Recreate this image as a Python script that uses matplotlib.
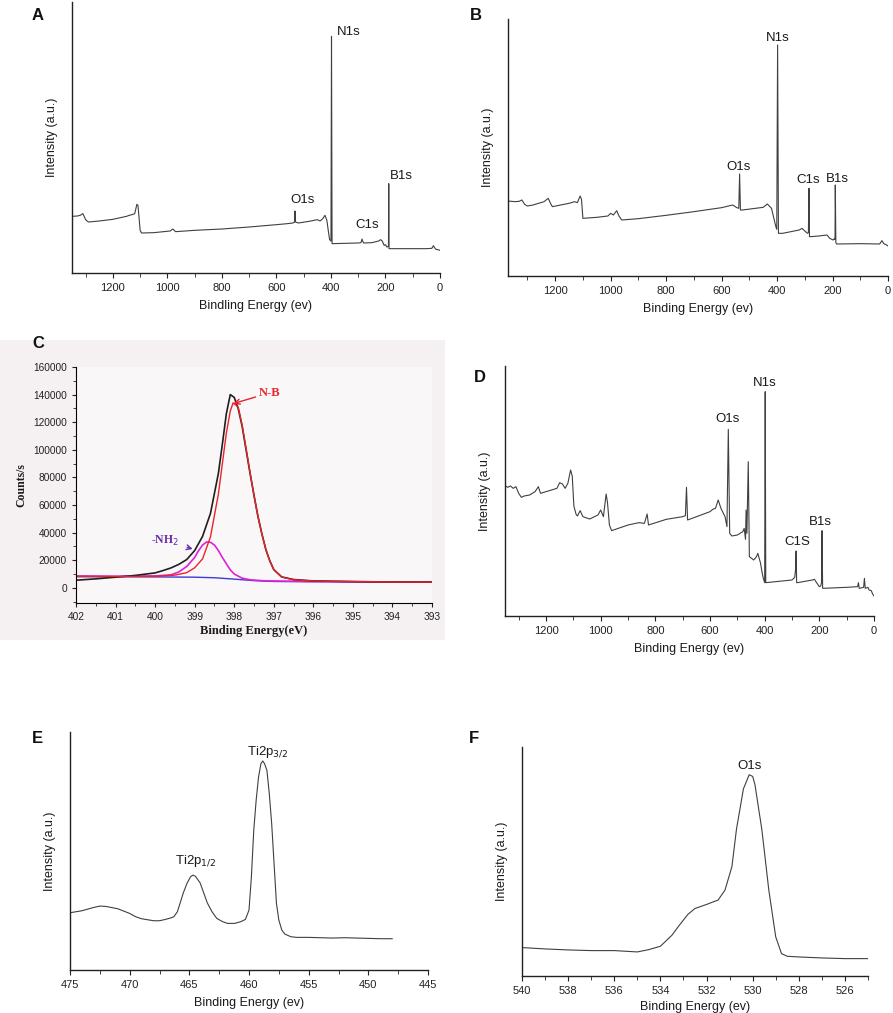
import numpy as np
import matplotlib
matplotlib.use('Agg')
import matplotlib.pyplot as plt
from matplotlib.ticker import MultipleLocator

plt.rcParams['font.family'] = ['Liberation Sans', 'DejaVu Sans']

# ---- panel A : survey spectrum ----
a_be = [1350, 1330, 1320, 1310, 1300, 1290, 1250, 1200, 1150, 1140, 1130, 1120, 1112, 1108,
        1100, 1095, 1050, 990, 980, 970, 900, 800, 700, 600, 560, 540, 534, 532, 530, 520,
        480, 450, 440, 430, 422, 415, 410, 405, 400, 398, 396, 350, 300, 290, 286, 284,
        280, 250, 225, 218, 212, 205, 200, 195, 189, 188, 187, 150, 100, 50, 30, 24, 20,
        15, 8, 0]
a_int = [170, 171, 173, 178, 160, 153, 156, 161, 170, 173, 175, 178, 206, 203,
         128, 120, 121, 126, 132, 124, 128, 132, 138, 145, 148, 150, 152, 186, 153, 150,
         155, 160, 156, 163, 173, 158, 128, 100, 96, 710, 88, 89, 90, 91, 102, 96,
         90, 91, 96, 100, 96, 83, 85, 78, 80, 268, 73, 73, 73, 73, 74, 82, 76,
         71, 70, 68]
a_labels = [('N1s', 378, 723, 'left'), ('O1s', 506, 218, 'center'),
            ('C1s', 268, 143, 'center'), ('B1s', 140, 290, 'center')]

# ---- panel B : survey spectrum ----
b_be = [1370, 1345, 1330, 1320, 1310, 1300, 1280, 1240, 1225, 1215, 1210, 1150, 1130, 1120,
        1110, 1105, 1100, 1050, 1010, 1000, 990, 978, 970, 960, 900, 800, 700, 600, 560,
        545, 538, 535, 532, 525, 450, 435, 428, 420, 412, 405, 401, 398, 395, 380, 320,
        310, 300, 290, 287, 285, 283, 280, 250, 220, 210, 198, 192, 191, 190, 188, 185,
        100, 30, 22, 15, 5, 0]
b_int = [225, 223, 224, 228, 215, 210, 213, 223, 233, 215, 208, 218, 223, 220,
         240, 230, 173, 176, 180, 188, 183, 196, 180, 168, 172, 182, 193, 205, 213,
         205, 203, 306, 198, 198, 206, 216, 210, 203, 175, 150, 140, 693, 128, 128, 138,
         143, 135, 128, 130, 263, 118, 118, 120, 123, 113, 108, 113, 110, 273, 100, 96,
         97, 96, 106, 97, 93, 90]
b_labels = [('N1s', 398, 715, 'center'), ('O1s', 540, 326, 'center'),
            ('C1s', 288, 288, 'center'), ('B1s', 181, 291, 'center')]

# ---- panel C : N1s high resolution fit ----
c_be_total = [402, 401.5, 401, 400.5, 400, 399.8, 399.6, 399.4, 399.2, 399.0, 398.8, 398.6,
              398.4, 398.3, 398.2, 398.1, 398.0, 397.9, 397.8, 397.7, 397.6, 397.5, 397.4,
              397.3, 397.2, 397.1, 397.0, 396.8, 396.5, 396, 395, 394, 393]
c_total = [5500, 6500, 7700, 9000, 10800, 12500, 14400, 17000, 20500, 27000, 37300, 54000,
           83000, 104000, 126000, 140000, 138000, 130000, 117000, 100000, 83000, 67000, 51700,
           39000, 27700, 19500, 13200, 7900, 6000, 5000, 4500, 4200, 4100]
c_be_nb = [402, 401, 400, 399.5, 399.2, 399.0, 398.8, 398.6, 398.4, 398.3, 398.2, 398.1,
           398.03, 397.9, 397.8, 397.7, 397.6, 397.5, 397.4, 397.3, 397.2, 397.1, 397.0,
           396.8, 396.5, 396, 395, 394, 393]
c_nb = [8400, 8200, 8300, 9200, 11000, 14500, 21000, 37000, 68000, 90000, 112000, 128000,
        134000, 131000, 118000, 101000, 83500, 67000, 51700, 39000, 27700, 19500, 13200,
        7800, 5800, 4900, 4500, 4200, 4100]
c_be_nh2 = [402, 401, 400, 399.6, 399.4, 399.2, 399.0, 398.9, 398.8, 398.7, 398.6, 398.5,
            398.4, 398.3, 398.2, 398.1, 398.0, 397.8, 397.6, 397.2, 396, 393]
c_nh2 = [8600, 8400, 8600, 9400, 11500, 15500, 22000, 27000, 31000, 33200, 33000, 31000,
         27000, 22000, 17500, 13000, 10000, 7000, 5800, 5000, 4600, 4100]
c_be_bg = [402, 401, 400, 399, 398.5, 398, 397.5, 397, 396, 393]
c_bg = [8000, 8000, 7900, 7700, 7300, 6300, 5200, 4600, 4400, 4100]

# ---- panel D : survey spectrum ----
d_be = [1350, 1340, 1330, 1320, 1310, 1300, 1290, 1280, 1260, 1240, 1228, 1220, 1200, 1160,
        1150, 1140, 1130, 1120, 1110, 1104, 1098, 1090, 1085, 1075, 1065, 1040, 1010, 1000,
        990, 980, 975, 968, 960, 900, 860, 840, 830, 825, 760, 700, 690, 686, 682, 600,
        590, 580, 570, 560, 545, 538, 533, 528, 520, 500, 480, 475, 470, 468, 465, 460,
        456, 440, 430, 425, 415, 410, 405, 400, 398, 396, 300, 290, 287, 285, 283, 280,
        225, 218, 210, 200, 195, 192, 190, 188, 100, 60, 57, 54, 38, 35, 32, 22, 18, 10,
        5, 0]
d_int = [391, 386, 390, 383, 388, 368, 356, 360, 363, 373, 388, 368, 373, 383,
         400, 396, 383, 398, 438, 420, 330, 305, 300, 316, 298, 291, 303, 318,
         298, 366, 340, 273, 256, 273, 280, 278, 306, 273, 290, 298, 301, 386, 288, 313,
         320, 323, 348, 323, 298, 268, 560, 248, 240, 243, 253, 263, 230, 318, 248, 463,
         178, 168, 178, 188, 158, 133, 113, 100, 673, 100, 108, 116, 140, 195, 100, 100,
         108, 110, 100, 88, 90, 100, 256, 83, 86, 88, 100, 83, 86, 113, 83, 86, 78, 76,
         66, 60]
d_labels = [('N1s', 398, 698, 'center'), ('O1s', 535, 591, 'center'),
            ('C1S', 281, 223, 'center'), ('B1s', 198, 283, 'center')]

# ---- panel E : Ti2p ----
e_be = [475, 474, 473, 472.5, 472, 471, 470, 469.5, 469, 468, 467.5, 467, 466.5, 466.3, 466,
        465.8, 465.5, 465.2, 464.9, 464.7, 464.5, 464.1, 463.8, 463.5, 463.1, 462.7, 462.2,
        461.8, 461.2, 460.7, 460.3, 460, 459.8, 459.6, 459.4, 459.2, 459, 458.85, 458.7,
        458.5, 458.3, 458.1, 457.9, 457.7, 457.5, 457.25, 457, 456.5, 456, 455, 454, 453,
        452, 451, 450, 449, 448]
e_int = [172, 178, 188, 192, 191, 184, 170, 160, 154, 148, 148, 152, 157, 160, 175,
         198, 232, 260, 280, 285, 282, 262, 232, 202, 175, 155, 145,
         140, 140, 145, 152, 180, 280, 420, 510, 580, 620, 628, 620,
         600, 530, 440, 320, 200, 150, 120, 108, 100, 98, 98, 97, 96,
         97, 96, 95, 94, 94]

# ---- panel F : O1s ----
f_be = [540, 539, 538, 537, 536, 535, 534.5, 534, 533.5, 533.2, 532.8, 532.5, 532, 531.7,
        531.5, 531.2, 530.9, 530.7, 530.4, 530.15, 530, 529.9, 529.6, 529.3, 529, 528.75,
        528.5, 528, 527, 526, 525]
f_int = [85, 81, 78, 76, 76, 72, 79, 89, 122, 150, 185, 202, 214, 222,
         227, 257, 327, 440, 560, 602, 597, 572, 437, 257, 117, 67,
         59, 57, 54, 52, 52]

W, H = 893, 1013
fig = plt.figure(figsize=(W / 100, H / 100), dpi=100)


def box(l, t, r, b):
    return [l / W, 1 - b / H, (r - l) / W, (b - t) / H]


line_c = '#404040'
txt_c = '#1a1a1a'


def style(ax):
    for s in ['top', 'right']:
        ax.spines[s].set_visible(False)
    for s in ['left', 'bottom']:
        ax.spines[s].set_color('#222222')
        ax.spines[s].set_linewidth(1.0)
    ax.tick_params(axis='x', which='both', direction='out', labelsize=8, colors='#222222')
    ax.tick_params(axis='x', which='major', length=3.5)
    ax.tick_params(axis='x', which='minor', length=3)
    ax.set_yticks([])


def survey(ax, be, inten, xmax, ytop, labels, xlabel):
    ax.plot(be, inten, color=line_c, lw=0.8)
    ax.set_xlim(xmax, 0)
    ax.set_ylim(0, ytop)
    ax.xaxis.set_major_locator(MultipleLocator(200))
    ax.xaxis.set_minor_locator(MultipleLocator(100))
    style(ax)
    for name, x, y, ha in labels:
        ax.text(x, y, name, ha=ha, va='center', fontsize=9.5, color=txt_c)
    ax.set_xlabel(xlabel, fontsize=9, color=txt_c, labelpad=5)
    ax.set_ylabel('Intensity (a.u.)', fontsize=9, color=txt_c, labelpad=10)


axA = fig.add_axes(box(72, 2, 440, 273))
survey(axA, a_be, a_int, 1350, 813, a_labels, 'Bindling Energy (ev)')

axB = fig.add_axes(box(508, 19, 888, 276))
survey(axB, b_be, b_int, 1370, 771, b_labels, 'Binding Energy (ev)')

axD = fig.add_axes(box(505, 366, 874, 616))
survey(axD, d_be, d_int, 1350, 750, d_labels, 'Binding Energy (ev)')

# panel C: tinted picture background behind the axes
bgC = fig.add_axes(box(0, 340, 445, 640), zorder=-1)
bgC.set_facecolor('#f5f0f2')
bgC.set_xticks([])
bgC.set_yticks([])
for s in bgC.spines.values():
    s.set_visible(False)

axC = fig.add_axes(box(76, 367, 432, 603), zorder=1)
axC.set_facecolor('#faf7f8')
axC.plot(c_be_bg, c_bg, color='#3b3bd6', lw=1.0)
axC.plot(c_be_nh2, c_nh2, color='#e020d8', lw=1.2)
axC.plot(c_be_total, c_total, color='#1f1f1f', lw=1.2)
axC.plot(c_be_nb, c_nb, color='#e8242c', lw=1.0)
axC.set_xlim(402, 393)
axC.set_ylim(-11000, 160000)
for s in ['top', 'right']:
    axC.spines[s].set_visible(False)
axC.xaxis.set_major_locator(MultipleLocator(1))
axC.xaxis.set_minor_locator(MultipleLocator(0.5))
axC.yaxis.set_major_locator(MultipleLocator(20000))
axC.yaxis.set_minor_locator(MultipleLocator(10000))
axC.set_yticks(np.arange(0, 160001, 20000))
axC.tick_params(which='both', direction='out', labelsize=7.3, colors='#222222')
axC.tick_params(which='major', length=3)
axC.tick_params(which='minor', length=2)
axC.set_xlabel('Binding Energy(eV)', fontsize=9, fontweight='bold', family='Liberation Serif',
               labelpad=2, color=txt_c)
axC.set_ylabel('Counts/s', fontsize=8.5, fontweight='bold', family='Liberation Serif',
               labelpad=4, color=txt_c)
axC.annotate('N-B', xy=(398.02, 133500), xytext=(397.39, 141200), color='#e8242c',
             fontsize=9, fontweight='bold', family='Liberation Serif', va='center', ha='left',
             arrowprops=dict(arrowstyle='->', color='#e8242c', lw=1.0, shrinkA=0, shrinkB=0))
axC.annotate('-NH$_2$', xy=(399.05, 28150), xytext=(399.75, 33700), color='#6a2aa8',
             fontsize=8.5, fontweight='bold', family='Liberation Serif', va='center', ha='center',
             arrowprops=dict(arrowstyle='->', color='#6a2aa8', lw=1.0, shrinkA=4, shrinkB=0))

# panel E
axE = fig.add_axes(box(70, 732, 428, 970))
axE.plot(e_be, e_int, color=line_c, lw=0.8)
axE.set_xlim(475, 445)
axE.set_ylim(0, 715)
axE.xaxis.set_major_locator(MultipleLocator(5))
axE.xaxis.set_minor_locator(MultipleLocator(2.5))
style(axE)
axE.text(458.4, 653, 'Ti2p$_{3/2}$', ha='center', va='center', fontsize=9.5, color=txt_c)
axE.text(464.5, 327, 'Ti2p$_{1/2}$', ha='center', va='center', fontsize=9.5, color=txt_c)
axE.set_xlabel('Binding Energy (ev)', fontsize=9, color=txt_c, labelpad=5)
axE.set_ylabel('Intensity (a.u.)', fontsize=9, color=txt_c, labelpad=10)

# panel F
axF = fig.add_axes(box(522, 747, 868, 976))
axF.plot(f_be, f_int, color=line_c, lw=0.8)
axF.set_xlim(540, 525)
axF.set_ylim(0, 685)
axF.xaxis.set_major_locator(MultipleLocator(2))
axF.xaxis.set_minor_locator(MultipleLocator(1))
style(axF)
axF.text(530.15, 627, 'O1s', ha='center', va='center', fontsize=9.5, color=txt_c)
axF.set_xlabel('Binding Energy (ev)', fontsize=9, color=txt_c, labelpad=4)
axF.set_ylabel('Intensity (a.u.)', fontsize=9, color=txt_c, labelpad=10)

for letter, x, y in [('A', 38, 15), ('B', 476, 15), ('C', 38, 343),
                     ('D', 480, 377), ('E', 37, 738), ('F', 474, 738)]:
    fig.text(x / W, 1 - y / H, letter, ha='center', va='center', fontsize=12,
             fontweight='bold', color='#111111', zorder=5)

fig.savefig('out.png', dpi=100)
